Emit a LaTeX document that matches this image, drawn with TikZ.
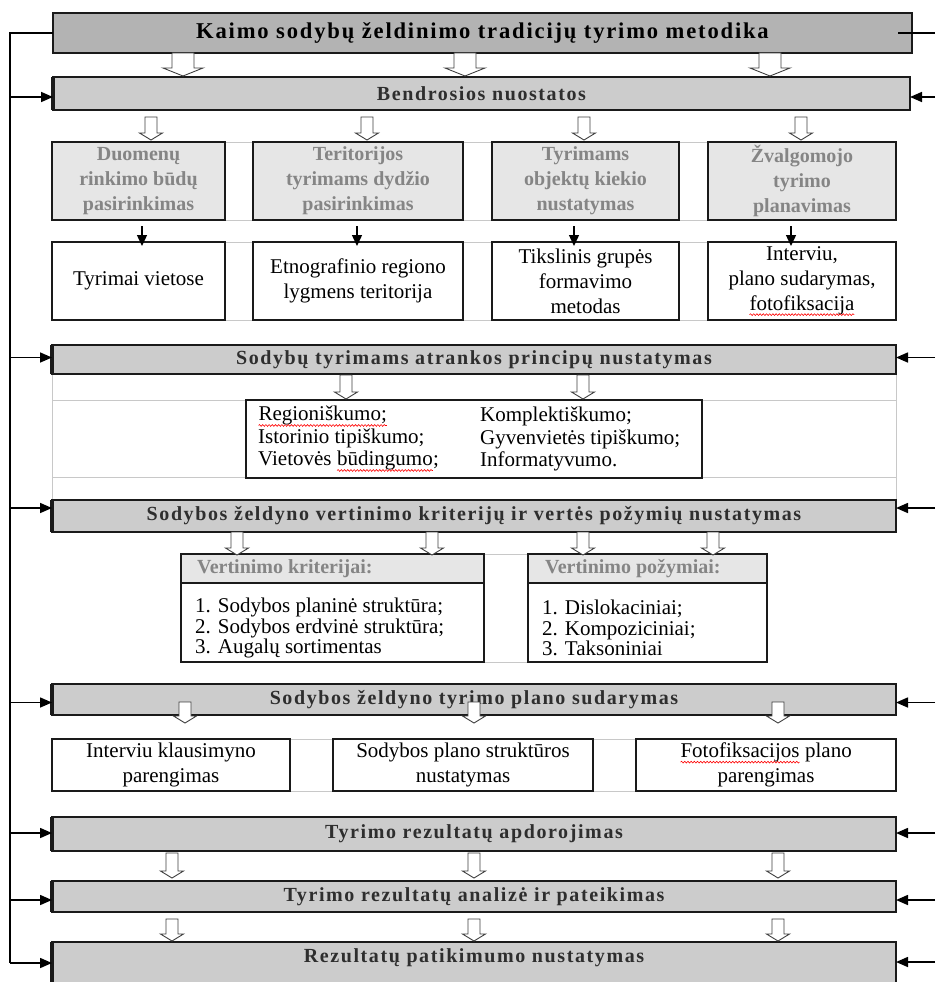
\documentclass[tikz,border=0pt]{standalone}
\usepackage{fontspec}
\setmainfont{Liberation Serif}
\newfontfamily\barfont{Liberation Serif}[LetterSpace=8]
\usetikzlibrary{arrows.meta,decorations.pathmorphing}
\definecolor{titlefill}{HTML}{B3B3B3}
\definecolor{barfill}{HTML}{CCCCCC}
\definecolor{hdrfill}{HTML}{E6E6E6}
\definecolor{hdrtext}{HTML}{858585}
\definecolor{bartext}{HTML}{2E2E2E}
\definecolor{gridc}{HTML}{C8C8C8}
\definecolor{edgec}{HTML}{1A1A1A}
\newcommand\rw[1]{\tikz[baseline=(rwn.base)]{\node[shape=rectangle, draw=none, fill=none, inner sep=0pt, outer sep=0pt, minimum width=0pt, minimum height=0pt, anchor=base] (rwn) at (0,0) {#1}; \draw[red, line width=0.6pt, decorate, decoration={snake, amplitude=0.9pt, segment length=3.2pt}] ([yshift=-4.5pt]rwn.base west) -- ([yshift=-4.5pt]rwn.base east);}}
\tikzset{
  bx/.style={inner sep=0pt, outer sep=0pt, anchor=north west, draw=edgec, line width=1.2pt},
  titlebox/.style={bx, fill=titlefill, line width=2.6pt, text=black, font=\barfont\bfseries\fontsize{22.6}{26}\selectfont},
  barbox/.style={bx, fill=barfill, line width=1.3pt, text=bartext, font=\barfont\bfseries\fontsize{20}{24}\selectfont},
  bartxt/.style={inner sep=0pt, text=bartext, font=\barfont\bfseries\fontsize{20}{24}\selectfont},
  hdrbox/.style={bx, fill=hdrfill, text=hdrtext, align=center, font=\bfseries\fontsize{20}{25}\selectfont},
  hdrtxt/.style={inner sep=0pt, anchor=west, text=hdrtext, font=\bfseries\fontsize{20}{25}\selectfont},
  wbox/.style={bx, fill=white, align=center, font=\fontsize{21}{25}\selectfont},
  listtxt/.style={inner sep=0pt, anchor=west, align=left},
  gridline/.style={draw=gridc, line width=0.9pt},
  conn/.style={draw=black, line width=1.6pt},
  sidearr/.style={conn, -{Triangle[length=12pt,width=10pt]}},
  downarr/.style={conn, line width=1.4pt, -{Triangle[length=11pt,width=10pt]}},
  holst/.style={draw=black!75, fill=white, line width=0.9pt, line join=miter},
  pics/holl/.style n args={4}{code={
    \draw[holst] (-#1,0) -- (-#1,#3-#4) -- (-#2,#3-#4) -- (0,#3) -- (#2,#3-#4) -- (#1,#3-#4) -- (#1,0) -- cycle;
  }}
}
\begin{document}
\begin{tikzpicture}[x=1pt,y=-1pt]
\useasboundingbox (0,0) rectangle (935,982);
\fill[white] (0,0) rectangle (935,982);

% table rules
\draw[gridline] (52,142) -- (896,142) (52,220) -- (896,220)
                (52,242) -- (896,242) (52,320) -- (896,320);
\draw[gridline] (52,374) -- (52,500) (896,374) -- (896,500)
                (52,400) -- (896,400) (52,477) -- (896,477);
\draw[gridline] (484,554) -- (528,554) (484,662) -- (528,662);
\draw[gridline] (52,739) -- (896,739) (52,791) -- (896,791);

% title and bars
\node[titlebox, minimum width=859pt, minimum height=40pt] (t) at (53,13) {Kaimo sodybų želdinimo tradicijų tyrimo metodika};
\node[barbox, minimum width=857pt, minimum height=33pt] (b1) at (53,77) {Bendrosios nuostatos};

% four header boxes
\node[hdrbox, minimum width=173pt, minimum height=78pt] (g1) at (52,142) {Duomenų\\ rinkimo būdų\\ pasirinkimas};
\node[hdrbox, minimum width=210pt, minimum height=78pt] (g2) at (253,142) {Teritorijos\\ tyrimams dydžio\\ pasirinkimas};
\node[hdrbox, minimum width=187pt, minimum height=78pt] (g3) at (492,142) {Tyrimams\\ objektų kiekio\\ nustatymas};
\node[hdrbox, minimum width=188pt, minimum height=78pt] (g4) at (708,142) {Žvalgomojo\\ tyrimo\\ planavimas};

\node[wbox, minimum width=173pt, minimum height=78pt] (w1) at (52,242) {Tyrimai vietose};
\node[wbox, minimum width=210pt, minimum height=78pt] (w2) at (253,242) {Etnografinio regiono\\ lygmens teritorija};
\node[wbox, minimum width=187pt, minimum height=78pt] (w3) at (492,242) {Tikslinis grupės\\ formavimo\\ metodas};
\node[wbox, minimum width=188pt, minimum height=78pt] (w4) at (708,242) {Interviu,\\ plano sudarymas,\\ \rw{fotofiksacija}};

\draw[downarr] ([xshift=3.5pt,yshift=-6pt]g1.south) -- ([xshift=3.5pt,yshift=-4pt]w1.north);
\draw[downarr] ([xshift=-1pt,yshift=-6pt]g2.south) -- ([xshift=-1pt,yshift=-4pt]w2.north);
\draw[downarr] ([xshift=-11.5pt,yshift=-6pt]g3.south) -- ([xshift=-11.5pt,yshift=-4pt]w3.north);
\draw[downarr] ([xshift=-11pt,yshift=-6pt]g4.south) -- ([xshift=-11pt,yshift=-4pt]w4.north);

% principles
\node[barbox, minimum width=844pt, minimum height=29pt] (b2) at (52,345) {Sodybų tyrimams atrankos principų nustatymas};
\node[wbox, minimum width=456pt, minimum height=78pt] (pb) at (246,400) {};
\node[listtxt, font=\fontsize{21}{22.5}\selectfont] (pl) at ([xshift=12pt]pb.west) {\rw{Regioniškumo;}\\ Istorinio tipiškumo;\\ Vietovės \rw{būdingumo};};
\node[listtxt, font=\fontsize{21}{22.5}\selectfont] (pr) at ([xshift=234pt]pb.west) {Komplektiškumo;\\ Gyvenvietės tipiškumo;\\ Informatyvumo.};

% evaluation
\node[barbox, minimum width=844pt, minimum height=32pt] (b3) at (52,500) {Sodybos želdyno vertinimo kriterijų ir vertės požymių nustatymas};
\node[bx, fill=hdrfill, minimum width=303pt, minimum height=29pt] (vkh) at (181,554) {};
\node[bx, fill=white, minimum width=303pt, minimum height=79pt] (vkb) at (181,583) {};
\node[bx, fill=hdrfill, minimum width=239pt, minimum height=29pt] (vph) at (528,554) {};
\node[bx, fill=white, minimum width=239pt, minimum height=79pt] (vpb) at (528,583) {};
\node[hdrtxt] (vkt) at ([xshift=16pt]vkh.west) {Vertinimo kriterijai:};
\node[hdrtxt] (vpt) at ([xshift=17pt]vph.west) {Vertinimo požymiai:};
\node[listtxt, font=\fontsize{21}{20.5}\selectfont] (vkl) at ([xshift=14pt,yshift=-5.5pt]vkb.west) {1. Sodybos planinė struktūra;\\ 2. Sodybos erdvinė struktūra;\\ 3. Augalų sortimentas};
\node[listtxt, font=\fontsize{21}{20.5}\selectfont] (vpl) at ([xshift=14pt,yshift=-5.5pt]vpb.west) {1. Dislokaciniai;\\ 2. Kompoziciniai;\\ 3. Taksoniniai};

% plan
\node[barbox, minimum width=844pt, minimum height=31pt] (b4) at (52,684) {Sodybos želdyno tyrimo plano sudarymas};
\node[wbox, minimum width=238pt, minimum height=52pt] (q1) at (52,739) {Interviu klausimyno\\ parengimas};
\node[wbox, minimum width=260pt, minimum height=52pt] (q2) at (333,739) {Sodybos plano struktūros\\ nustatymas};
\node[wbox, minimum width=260pt, minimum height=52pt] (q3) at (636,739) {\rw{Fotofiksacijos} plano\\ parengimas};

% results
\node[barbox, minimum width=844pt, minimum height=34pt] (b5) at (52,817) {Tyrimo rezultatų apdorojimas};
\node[barbox, minimum width=844pt, minimum height=31pt] (b6) at (52,881) {Tyrimo rezultatų analizė ir pateikimas};
\node[barbox, minimum width=844pt, minimum height=60pt] (b7) at (52,942) {};
\node[bartxt] (b7t) at ([yshift=-16pt]b7.north) {Rezultatų patikimumo nustatymas};

\foreach \n in {b1,b2,b3,b4,b5,b6,b7} {
  \draw[line width=3.5pt, draw=edgec] (\n.north west) -- (\n.south west);
}

% spine coordinates
\coordinate (spine) at (10,0);
\coordinate (rspine) at (935,0);
\foreach \n/\s in {b1/-3.5, b2/2, b3/8, b4/-3, b5/1, b6/-3.5} {
  \path ([yshift=\s]\n.west) coordinate (L\n) ([yshift=\s]\n.east) coordinate (R\n);
}
\path ([yshift=-21pt]b7.north west) coordinate (Lb7) ([yshift=-20pt]b7.north east) coordinate (Rb7);

\draw[conn] (t.west) -- (t.west -| spine) -- (Lb7 -| spine);
\draw[conn] ([xshift=-14pt]t.east) -- (t.east -| rspine);
\foreach \n in {b1,b2,b3,b4,b5,b6,b7} {
  \draw[sidearr] (L\n -| spine) -- (L\n);
  \draw[sidearr] (R\n -| rspine) -- (R\n);
}

% hollow block arrows
\foreach \x in {183,465,770} { \pic at (\x,53) {holl={11}{20}{23}{8}}; }
\foreach \x in {151,367,584,801} { \pic at (\x,117) {holl={6}{11.5}{23}{7}}; }
\foreach \x in {346,583} { \pic at (\x,375) {holl={6}{11.5}{24}{7}}; }
\foreach \x in {237,432,583,713} { \pic at (\x,532) {holl={6}{11.5}{23}{7}}; }
\foreach \x in {185,474,778} { \pic at (\x,702) {holl={6}{11.5}{21}{7}}; }
\foreach \x in {172,474,778} { \pic at (\x,853) {holl={6}{11.5}{25}{7}}; }
\foreach \x in {172,474,778} { \pic at (\x,919) {holl={6}{11.5}{22}{7}}; }
\end{tikzpicture}
\end{document}
